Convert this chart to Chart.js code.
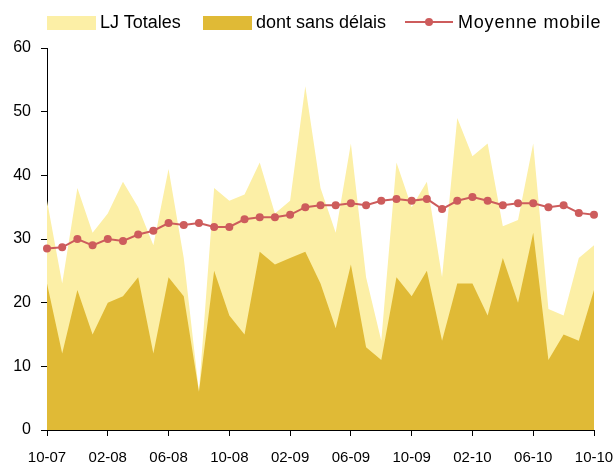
<!DOCTYPE html>
<html>
<head>
<meta charset="utf-8">
<script src="https://cdn.jsdelivr.net/npm/chart.js@4"></script>
<style>
    html, body { margin: 0; padding: 0; background: #fff; }
    #wrap { position: relative; width: 614px; height: 466px; font-family: 'Liberation Sans', Arial, sans-serif; }
    #lg { position: absolute; left: 0; top: 0; width: 614px; height: 40px; font-size: 18px; color: #000; }
    .sw { position: absolute; top: 16px; width: 49px; height: 14px; }
    .tx { position: absolute; top: 11px; line-height: 22px; white-space: nowrap; }
    .ln { position: absolute; top: 21px; width: 48px; height: 2px; background: #cd5c5c; }
    .dt { position: absolute; top: 18px; width: 8px; height: 8px; border-radius: 50%; background: #cd5c5c; }
</style>
</head>
<body>
<div id="wrap">
    <canvas id="c" width="614" height="466"></canvas>
    <div id="lg">
        <div class="sw" style="left:47px;background:#fcefa6"></div>
        <div class="tx" style="left:100px">LJ Totales</div>
        <div class="sw" style="left:203px;background:#e0ba36"></div>
        <div class="tx" style="left:256px">dont sans délais</div>
        <div class="ln" style="left:405px"></div>
        <div class="dt" style="left:425px"></div>
        <div class="tx" style="left:458px;letter-spacing:0.8px">Moyenne mobile</div>
    </div>
</div>
<script>
// ─── DATA ───
const months = [
    '10-07', '11-07', '12-07', '01-08', '02-08', '03-08', '04-08', '05-08', '06-08', '07-08', '08-08', '09-08',
    '10-08', '11-08', '12-08', '01-09', '02-09', '03-09', '04-09', '05-09', '06-09', '07-09', '08-09', '09-09',
    '10-09', '11-09', '12-09', '01-10', '02-10', '03-10', '04-10', '05-10', '06-10', '07-10', '08-10', '09-10',
    '10-10'
];
const tickEvery = 4;

const totales = [36, 23, 38, 31, 34, 39, 35, 29, 41, 27, 6, 38,
                 36, 37, 42, 34, 36, 54, 38, 31, 45, 24, 14, 42,
                 35, 39, 24, 49, 43, 45, 32, 33, 45, 19, 18, 27,
                 29];
const sansDelais = [23, 12, 22, 15, 20, 21, 24, 12, 24, 21, 6, 25,
                    18, 15, 28, 26, 27, 28, 23, 16, 26, 13, 11, 24,
                    21, 25, 14, 23, 23, 18, 27, 20, 31, 11, 15, 14,
                    22];
const moyenne = [28.5, 28.7, 30.0, 29.0, 30.0, 29.7, 30.7, 31.3, 32.5, 32.2, 32.5, 31.9,
                 31.9, 33.1, 33.4, 33.4, 33.8, 35.0, 35.3, 35.3, 35.6, 35.3, 36.0, 36.3,
                 36.0, 36.3, 34.7, 36.0, 36.6, 36.0, 35.3, 35.6, 35.6, 35.0, 35.3, 34.1,
                 33.8];

const yTicks = [0, 10, 20, 30, 40, 50, 60];

// ─── CHART ───
const FONT = "'Liberation Sans', Arial, sans-serif";

new Chart(document.getElementById('c'), {
    type: 'line',
    data: {
        labels: months,
        datasets: [
            { label: 'Moyenne mobile', data: moyenne, order: 0, borderColor: '#cd5c5c', backgroundColor: '#cd5c5c',
              borderWidth: 2, pointRadius: 4, pointBorderWidth: 0, fill: false, tension: 0 },
            { label: 'dont sans délais', data: sansDelais, order: 1, borderWidth: 0, pointRadius: 0,
              backgroundColor: '#e0ba36', fill: 'origin', tension: 0 },
            { label: 'LJ Totales', data: totales, order: 2, borderWidth: 0, pointRadius: 0,
              backgroundColor: '#fcefa6', fill: 'origin', tension: 0 }
        ]
    },
    options: {
        responsive: false,
        animation: false,
        layout: { padding: { top: 48, right: 20, left: 0, bottom: 0 } },
        plugins: { legend: { display: false }, tooltip: { enabled: false } },
        scales: {
            x: {
                offset: false,
                afterFit: s => { s.height = 36; s.paddingLeft = 0; s.paddingRight = 0; },
                grid: { drawOnChartArea: false, drawTicks: true, tickLength: 6, color: '#000', lineWidth: 1 },
                border: { display: true, color: '#000', width: 1 },
                ticks: {
                    autoSkip: false, maxRotation: 0, color: '#000', padding: 13,
                    font: { family: FONT, size: 15 },
                    callback: (v, i) => (i % tickEvery === 0 ? months[i] : null)
                }
            },
            y: {
                min: yTicks[0], max: yTicks[yTicks.length - 1],
                afterBuildTicks: s => { s.ticks = yTicks.map(v => ({ value: v })); },
                afterFit: s => { s.width = 47; s.paddingTop = 0; s.paddingBottom = 0; },
                grid: { drawOnChartArea: false, drawTicks: true, tickLength: 6, color: '#000', lineWidth: 1 },
                border: { display: true, color: '#000', width: 1 },
                ticks: { color: '#000', padding: 10, font: { family: FONT, size: 16 } }
            }
        }
    }
});
</script>
</body>
</html>
